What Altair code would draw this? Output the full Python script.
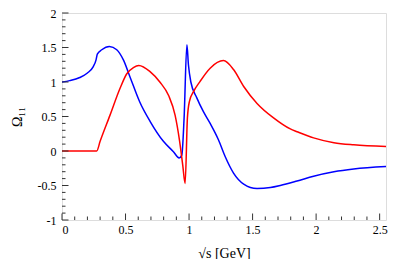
import altair as alt
import pandas as pd

# Blue curve (Omega_11 first component)
blue_x = [0, 0.06, 0.14, 0.2, 0.245, 0.268, 0.278, 0.313, 0.373, 0.431, 0.483, 0.536,
          0.612, 0.693, 0.798, 0.877, 0.922, 0.943, 0.961, 0.983, 0.995, 1.014, 1.061,
          1.113, 1.166, 1.232, 1.284, 1.35, 1.43, 1.535, 1.64, 1.718, 1.85, 1.98, 2.14,
          2.296, 2.55]
blue_y = [1.0, 1.02, 1.065, 1.13, 1.22, 1.32, 1.405, 1.467, 1.515, 1.467, 1.32, 1.07,
          0.71, 0.43, 0.14, -0.01, -0.10, -0.06, 0.48, 1.54, 1.25, 1.0, 0.77,
          0.57, 0.40, 0.16, -0.08, -0.32, -0.48, -0.545, -0.53, -0.50, -0.435, -0.365, -0.30,
          -0.26, -0.225]

# Red curve
red_x = [0, 0.273, 0.30, 0.378, 0.457, 0.51, 0.562, 0.605, 0.693, 0.77, 0.84, 0.89,
         0.925, 0.95, 0.969, 0.987, 1.003, 1.035, 1.087, 1.166, 1.271, 1.35, 1.43,
         1.535, 1.665, 1.797, 1.85, 1.98, 2.14, 2.296, 2.55]
red_y = [0, 0, 0.14, 0.52, 0.91, 1.12, 1.21, 1.24, 1.15, 1.0, 0.80, 0.52,
         0.15, -0.20, -0.47, 0.48, 0.72, 0.86, 1.01, 1.20, 1.31, 1.18, 0.935,
         0.69, 0.48, 0.32, 0.28, 0.19, 0.12, 0.089, 0.065]

x_major = [0, 0.5, 1, 1.5, 2, 2.5]
x_minor = [round(i * 0.1, 1) for i in range(26) if i % 5 != 0]
y_major = [-1, -0.5, 0, 0.5, 1, 1.5, 2]
y_minor = [round(-1 + i * 0.1, 1) for i in range(31) if i % 5 != 0]

W, H = 324, 207
FONT = "Liberation Serif, DejaVu Serif, serif"

df = pd.concat([
    pd.DataFrame({"x": blue_x, "y": blue_y, "s": "blue"}),
    pd.DataFrame({"x": red_x, "y": red_y, "s": "red"}),
])

xs = alt.Scale(domain=[0, 2.55], nice=False, zero=False)
ys = alt.Scale(domain=[-1, 2], nice=False, zero=False)

ax_x = alt.Axis(
    values=x_major, labelExpr="'' + datum.value", ticks=False, domain=False, grid=False,
    labelFont=FONT, labelFontSize=12, labelColor="black", labelPadding=4,
    labelOverlap=False,
    title="√s [GeV]", titleFont=FONT, titleFontSize=14, titleFontWeight="normal",
    titleColor="black", titleX=W / 2, titleY=33, titleBaseline="middle", titleAlign="center")
ax_y = alt.Axis(
    values=y_major, labelExpr="'' + datum.value", ticks=False, domain=False, grid=False,
    labelFont=FONT, labelFontSize=12, labelColor="black", labelPadding=6,
    labelOverlap=False,
    title="Ω₁₁", titleFont=FONT, titleFontSize=14, titleFontWeight="normal",
    titleColor="black", titleX=-45, titleY=H / 2, titleAngle=-90,
    titleBaseline="middle", titleAlign="center")

lines = alt.Chart(df).mark_line(strokeWidth=1.5, interpolate="monotone", clip=True).encode(
    x=alt.X("x:Q", scale=xs, axis=ax_x, title="√s [GeV]"),
    y=alt.Y("y:Q", scale=ys, axis=ax_y, title="Ω₁₁"),
    color=alt.Color("s:N", scale=alt.Scale(domain=["blue", "red"], range=["#0000ff", "#ff0000"]),
                    legend=None),
)

def xticks(vals, length):
    return alt.Chart(pd.DataFrame({"v": vals})).mark_rule(color="#333", strokeWidth=1).encode(
        x=alt.X("v:Q", scale=xs, axis=ax_x, title="√s [GeV]"),
        y=alt.value(H), y2=alt.value(H - length))

def yticks(vals, length):
    return alt.Chart(pd.DataFrame({"v": vals})).mark_rule(color="#333", strokeWidth=1).encode(
        y=alt.Y("v:Q", scale=ys, axis=ax_y, title="Ω₁₁"),
        x=alt.value(0), x2=alt.value(length))

chart = alt.layer(
    lines,
    xticks(x_major, 6.5), xticks(x_minor, 3.5),
    yticks(y_major, 6.5), yticks(y_minor, 3.5),
).properties(
    width=W, height=H,
    autosize=alt.AutoSizeParams(type="none"),
    padding={"left": 54, "top": 5, "right": 13, "bottom": 39},
).configure_view(stroke="#333", strokeWidth=1).configure(background="white")

chart.save("out.html", embed_options={"renderer": "svg", "actions": False})
